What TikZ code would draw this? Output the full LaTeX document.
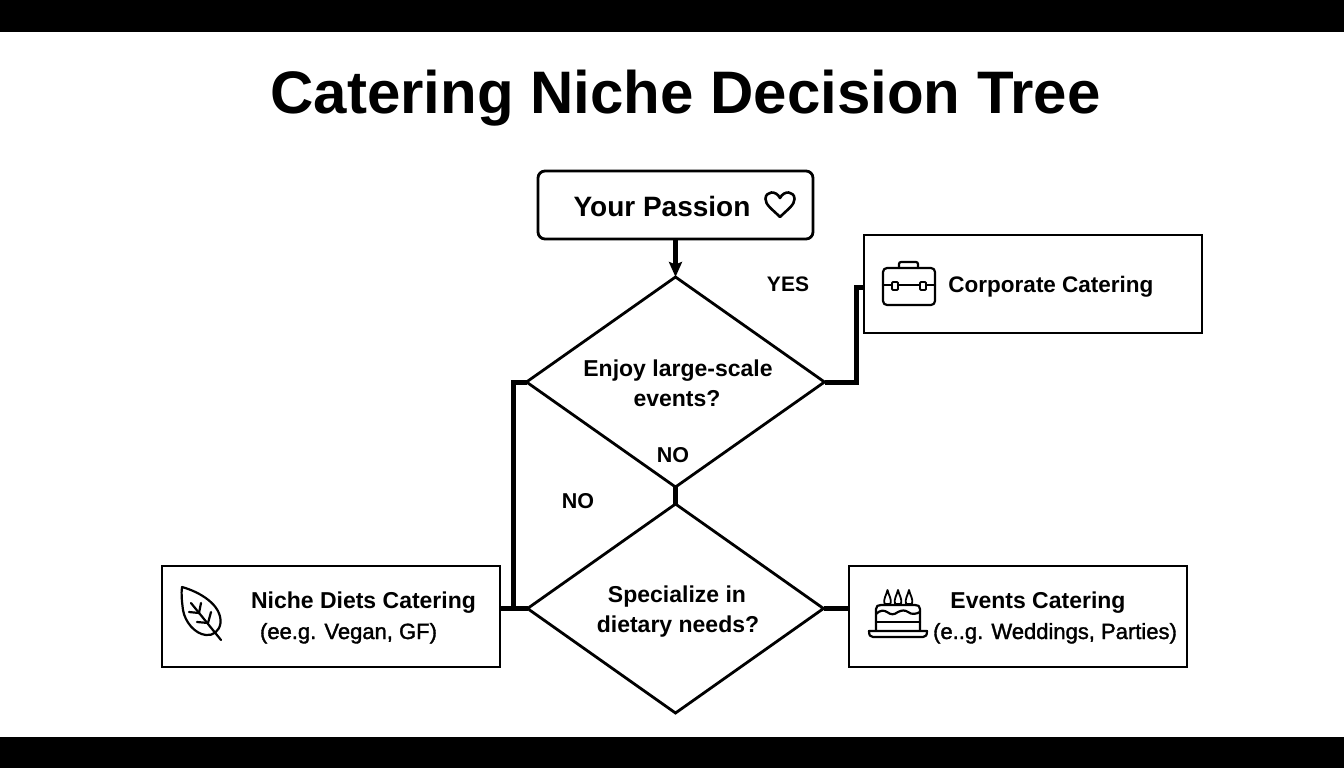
\documentclass[tikz,border=0pt]{standalone}
\usepackage{fontspec}
\usetikzlibrary{shapes.geometric,arrows.meta,calc}
\setmainfont{Liberation Sans}
\newfontfamily\lblfont[FakeBold=1.6]{Liberation Sans}
\tikzset{
  every node/.style={inner sep=0pt,outer sep=0pt},
  boxnode/.style={draw=black,line width=2.8pt,rectangle},
  decision/.style={draw=black,line width=2.8pt,diamond,minimum width=#1},
  conn/.style={draw=black,line width=5pt,line join=miter},
  lbl/.style={anchor=base,font=\bfseries\fontsize{23}{26}\selectfont,text=black},
  lblsub/.style={anchor=base,font=\lblfont\fontsize{22}{26}\selectfont,text=black},
  icon/.style={draw=black,line width=2.2pt,line cap=round,line join=round},
}
\begin{document}
\begin{tikzpicture}[x=1pt,y=-1pt]
\useasboundingbox (0,0) rectangle (1344,768);
\fill[white] (0,0) rectangle (1344,768);
\fill[black] (0,0) rectangle (1344,32);
\fill[black] (0,737) rectangle (1344,768);

\node[anchor=base,font=\bfseries\fontsize{60}{64}\selectfont] (title) at (685.5,113) {Catering Niche Decision Tree};

\node[boxnode,rounded corners=7pt,minimum width=275pt,minimum height=68pt] (start) at (675.5,205) {};
\node[decision=298pt,minimum height=210pt] (d1) at (675.5,382) {};
\node[decision=296pt,minimum height=209pt] (d2) at (675.5,608.5) {};
\node[boxnode,minimum width=338pt,minimum height=98pt] (corp) at (1033,284) {};
\node[boxnode,minimum width=338pt,minimum height=101pt] (niche) at (331,616.5) {};
\node[boxnode,minimum width=338pt,minimum height=101pt] (events) at (1018,616.5) {};

\coordinate (yesin) at ($(corp.west)+(0,3)$);
\coordinate (nicheout) at ($(niche.east)+(0,-8)$);
\coordinate (eventsin) at ($(events.west)+(0,-8)$);

\draw[conn,-{Stealth[length=15pt,width=13pt,inset=2.5pt]}] (start.south) -- (d1.north);
\draw[conn] (d1.south) -- (d2.north);
\draw[conn] (d1.east) -- ++(32,0) |- (yesin);
\draw[conn] (d1.west) -- ++(-13,0) |- (d2.west);
\draw[conn] (nicheout) -- (d2.west);
\draw[conn] (d2.east) -- (eventsin);

\node[lbl,font=\bfseries\fontsize{28}{32}\selectfont] (tstart) at (662,216) {Your Passion};
\node[lbl,font=\bfseries\fontsize{21}{26}\selectfont] (tyes) at (788,291) {YES};
\node[lbl,font=\bfseries\fontsize{22.5}{26}\selectfont] (tcorp) at (1051,292) {Corporate Catering};
\node[lbl] (tq1a) at (678,376) {Enjoy large-scale};
\node[lbl] (tq1b) at (677,406) {events?};
\node[lbl,font=\bfseries\fontsize{21.5}{26}\selectfont] (tno1) at (673,462) {NO};
\node[lbl,font=\bfseries\fontsize{21.5}{26}\selectfont] (tno2) at (578,508) {NO};
\node[lbl] (tq2a) at (677,602) {Specialize in};
\node[lbl] (tq2b) at (678,632) {dietary needs?};
\node[lbl] (tn1) at (363.5,608) {Niche Diets Catering};
\node[lblsub] (tn2) at (348.5,639) {(ee.g. Vegan, GF)};
\node[lbl] (te1) at (1038,608) {Events Catering};
\node[lblsub] (te2) at (1055,639) {(e..g. Weddings, Parties)};

% heart
\draw[icon,line width=2.6pt] (780,217) .. controls (772,209) and (765.5,205) .. (765.5,199)
  .. controls (765.5,191) and (776,190) .. (780,198)
  .. controls (784,190) and (794.5,191) .. (794.5,199)
  .. controls (794.5,205) and (788,209) .. (780,217) -- cycle;

% briefcase
\draw[icon,rounded corners=4pt] (883,268) -- (935,268) -- (935,305) -- (883,305) -- cycle;
\draw[icon,rounded corners=2pt] (899,268) -- (899,262) -- (918,262) -- (918,268);
\draw[icon] (883,285) -- (892,285) (898,285) -- (920,285) (926,285) -- (935,285);
\draw[icon,line width=1.9pt,rounded corners=1pt] (892,282) rectangle (898,290);
\draw[icon,line width=1.9pt,rounded corners=1pt] (920,282) rectangle (926,290);

% leaf
\draw[icon] (182,587) .. controls (200,592) and (222,605) .. (220.5,623)
  .. controls (219.5,631) and (213,636) .. (206,635)
  .. controls (195,634) and (185,622) .. (183,610)
  .. controls (182,602) and (181,594) .. (182,587) -- cycle;
\draw[icon] (191,603) -- (221,640);
\draw[icon] (199,613) -- (201,603);
\draw[icon] (199,613) -- (189,612);
\draw[icon] (208,623) -- (211,612);
\draw[icon] (208,623) -- (197,622);

% cake
\draw[icon] (876,630) -- (876,609) .. controls (876,606) and (878,605) .. (881,605) -- (915,605)
  .. controls (918,605) and (920,606) .. (920,609) -- (920,630);
\draw[icon] (876,614) .. controls (880,610) and (884,610) .. (887,612)
  .. controls (891,615) and (894,615) .. (898,612)
  .. controls (902,610) and (905,610) .. (908,612)
  .. controls (912,615) and (916,614) .. (920,612);
\draw[icon] (876,622) -- (920,622);
\draw[icon] (869,631) -- (927,631) .. controls (927,635) and (926,637) .. (923,637) -- (873,637) .. controls (870,637) and (869,635) .. (869,631) -- cycle;
\foreach \cx in {887.5,898,909}{
  \draw[icon,line width=1.8pt] (\cx-3,604) .. controls (\cx-4.5,599) and (\cx-1,595) .. (\cx,590)
    .. controls (\cx+1,595) and (\cx+4.5,599) .. (\cx+3,604) -- cycle;
}
\end{tikzpicture}
\end{document}
